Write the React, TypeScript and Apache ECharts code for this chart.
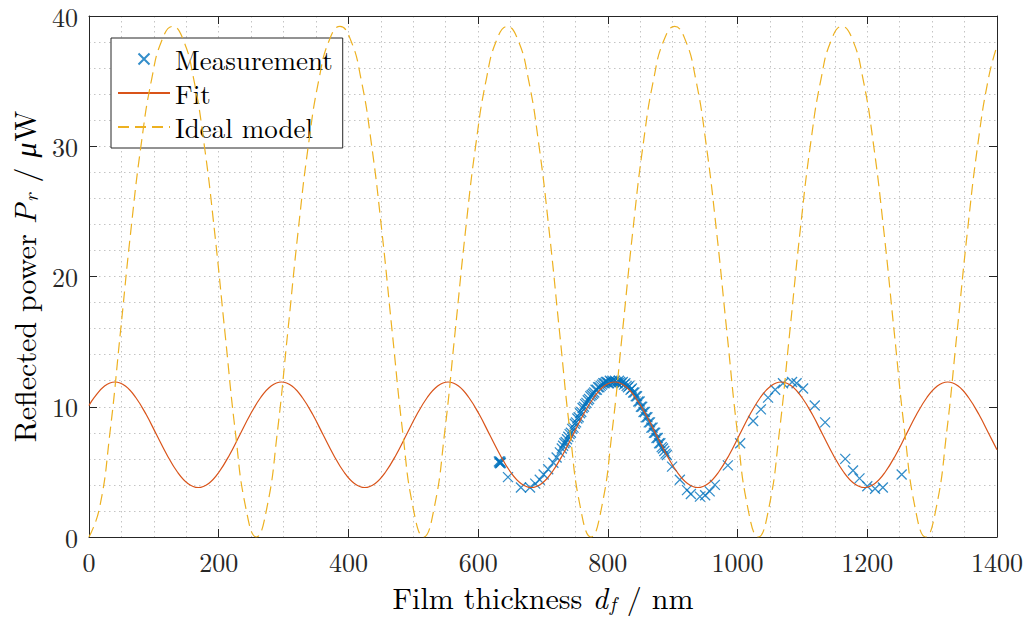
import React, { useEffect, useRef } from "react";
import * as echarts from "echarts";

// ---- Data ----
const measX = [
  632, 633, 634, 634, 635, 646, 666, 680, 688, 695, 701, 708, 716, 721, 726,
  729, 731, 733, 735, 737, 739, 741, 743, 745, 747, 749, 751, 753, 755, 757, 759,
  761, 763, 765, 767, 769, 771, 773, 775, 777, 779, 781, 783, 785, 787, 789, 791,
  793, 795, 797, 799,
  801, 803, 805, 807, 809, 811, 813, 815, 817, 819, 821, 823, 825, 827, 829, 831,
  833, 835, 837, 839, 841, 843, 845, 847, 849, 851, 853, 855, 857, 859, 861, 863,
  865, 867, 869, 871, 873, 875, 877, 879, 881, 883, 885, 887, 889, 891,
  899, 911, 922, 928, 942, 950, 957, 965, 985, 1004, 1024, 1036, 1047, 1058, 1070,
  1084, 1091, 1101, 1119, 1135, 1166, 1178, 1188, 1200, 1212, 1224, 1253,
];
const measY = [
  5.8, 5.7, 5.65, 5.8, 5.7, 4.6, 3.8, 3.8, 4.1, 4.4, 4.8, 5.2, 5.7, 6.1, 6.5,
  6.8, 7.0, 7.2, 7.3, 7.5, 7.7, 7.9, 8.0, 8.3, 8.4, 8.7, 8.8, 9.1, 9.2, 9.5, 9.6,
  9.9, 10.0, 10.2, 10.3, 10.5, 10.6, 10.8, 10.9, 11.0, 11.1, 11.3, 11.3, 11.5, 11.5, 11.6, 11.7,
  11.8, 11.8, 11.9, 11.9,
  11.8, 12.0, 11.9, 12.0, 11.9, 12.0, 11.9, 11.8, 12.0, 11.9, 11.8, 11.9, 11.7, 11.8, 11.6, 11.5,
  11.6, 11.3, 11.4, 11.1, 11.1, 10.8, 10.8, 10.4, 10.4, 10.0, 10.0, 9.6, 9.6, 9.2, 9.2, 8.8,
  8.8, 8.4, 8.4, 8.0, 8.0, 7.6, 7.6, 7.2, 7.2, 6.9, 6.8, 6.6, 6.4, 6.3,
  5.4, 4.4, 3.6, 3.3, 3.1, 3.2, 3.5, 4.0, 5.5, 7.2, 8.9, 9.8, 10.7, 11.3, 11.8,
  11.9, 11.8, 11.4, 10.1, 8.8, 6.0, 5.1, 4.5, 3.9, 3.7, 3.8, 4.8,
];

const fitX = [
  0, 7.9, 24.0, 40, 56.1, 72.1, 88.2, 104.2, 120.3, 136.3, 152.4, 168.4, 184.5, 200.5, 216.6, 232.6,
  248.7, 264.7, 280.8, 296.8, 312.9, 328.9, 345.0, 361.0, 377.1, 393.1, 409.2, 425.2, 441.3, 457.3,
  473.4, 489.4, 505.5, 521.5, 537.6, 553.6, 569.7, 585.7, 601.8, 617.8, 633.9, 649.9, 666.0, 682.0,
  698.1, 714.1, 730.2, 746.2, 762.3, 778.3, 794.4, 810.4, 826.5, 842.5, 858.6, 874.6, 890.7, 906.7,
  922.8, 938.8, 954.9, 970.9, 987.0, 1003.0, 1019.1, 1035.1, 1051.2, 1067.2, 1083.3, 1099.3, 1115.4,
  1131.4, 1147.5, 1163.5, 1179.6, 1195.6, 1211.7, 1227.7, 1243.8, 1259.8, 1275.9, 1291.9, 1308.0,
  1324.0, 1340.1, 1356.1, 1372.2, 1388.2, 1400,
];
const fitY = [
  10.1, 10.71, 11.59, 11.9, 11.59, 10.71, 9.4, 7.85, 6.3, 4.99, 4.11, 3.8, 4.11, 4.99, 6.3, 7.85,
  9.4, 10.71, 11.59, 11.9, 11.59, 10.71, 9.4, 7.85, 6.3, 4.99, 4.11, 3.8, 4.11, 4.99,
  6.3, 7.85, 9.4, 10.71, 11.59, 11.9, 11.59, 10.71, 9.4, 7.85, 6.3, 4.99, 4.11, 3.8,
  4.11, 4.99, 6.3, 7.85, 9.4, 10.71, 11.59, 11.9, 11.59, 10.71, 9.4, 7.85, 6.3, 4.99,
  4.11, 3.8, 4.11, 4.99, 6.3, 7.85, 9.4, 10.71, 11.59, 11.9, 11.59, 10.71, 9.4,
  7.85, 6.3, 4.99, 4.11, 3.8, 4.11, 4.99, 6.3, 7.85, 9.4, 10.71, 11.59,
  11.9, 11.59, 10.71, 9.4, 7.85, 6.7,
];

const idealX = [
  0, 16.1, 32.3, 48.4, 64.5, 80.6, 96.8, 112.9, 129, 145.1, 161.3, 177.4, 193.5, 209.6, 225.8, 241.9,
  258, 274.1, 290.3, 306.4, 322.5, 338.6, 354.8, 370.9, 387, 403.1, 419.3, 435.4, 451.5, 467.6, 483.8, 499.9,
  516, 532.1, 548.3, 564.4, 580.5, 596.6, 612.8, 628.9, 645, 661.1, 677.3, 693.4, 709.5, 725.6, 741.8, 757.9,
  774, 790.1, 806.3, 822.4, 838.5, 854.6, 870.8, 886.9, 903, 919.1, 935.3, 951.4, 967.5, 983.6, 999.8, 1015.9,
  1032, 1048.1, 1064.3, 1080.4, 1096.5, 1112.6, 1128.8, 1144.9, 1161, 1177.1, 1193.3, 1209.4, 1225.5, 1241.6, 1257.8, 1273.9,
  1290, 1306.1, 1322.3, 1338.4, 1354.5, 1370.6, 1386.8, 1400,
];
const idealY = [
  0, 2.2, 8.0, 15.7, 23.5, 30.2, 35.2, 38.2, 39.2, 38.2, 35.2, 30.2, 23.5, 15.7, 8.0, 2.2,
  0, 2.2, 8.0, 15.7, 23.5, 30.2, 35.2, 38.2, 39.2, 38.2, 35.2, 30.2, 23.5, 15.7, 8.0, 2.2,
  0, 2.2, 8.0, 15.7, 23.5, 30.2, 35.2, 38.2, 39.2, 38.2, 35.2, 30.2, 23.5, 15.7, 8.0, 2.2,
  0, 2.2, 8.0, 15.7, 23.5, 30.2, 35.2, 38.2, 39.2, 38.2, 35.2, 30.2, 23.5, 15.7, 8.0, 2.2,
  0, 2.2, 8.0, 15.7, 23.5, 30.2, 35.2, 38.2, 39.2, 38.2, 35.2, 30.2, 23.5, 15.7, 8.0, 2.2,
  0, 2.2, 8.0, 15.7, 23.5, 30.2, 35.2, 37.7,
];

const seriesNames = ["Measurement", "Fit", "Ideal model"];
const xTitle = "Film thickness {i|d}{sub|f} / nm";
const yTitle = "Reflected power {i|P}{sub|r} / {i|μ}W";

const FONT = "'Latin Modern Roman', 'Liberation Serif', 'Times New Roman', serif";
const AXIS_COLOR = "#262626";
const GRID_LINE = { color: "#c4c4c4", width: 1, type: [1.5, 3.5] as any };

export default function App() {
  const ref = useRef<HTMLDivElement>(null);

  useEffect(() => {
    if (!ref.current) return;
    const chart = echarts.init(ref.current, undefined, { renderer: "svg" });

    const richTitle = {
      i: { fontFamily: FONT, fontStyle: "italic", fontSize: 30, color: "#000", padding: [0, 1, 0, 0] },
      sub: { fontFamily: FONT, fontStyle: "italic", fontSize: 20, color: "#000", padding: [12, 1, 0, 1] },
    };

    const baseAxis = {
      type: "value" as const,
      axisLine: { show: true, onZero: false, lineStyle: { color: AXIS_COLOR, width: 1 } },
      axisTick: { show: true, inside: true, length: 8, lineStyle: { color: AXIS_COLOR, width: 1 } },
    };

    const hiddenDot = { opacity: 0 };

    chart.setOption({
      animation: false,
      backgroundColor: "#fff",
      grid: { left: 89, right: 34, top: 16, bottom: 82, containLabel: false },
      legend: {
        orient: "vertical",
        left: 111,
        top: 38,
        data: [
          { name: seriesNames[0], icon: "path://M0,0L10,10M10,0L0,10" },
          { name: seriesNames[1], itemStyle: hiddenDot },
          { name: seriesNames[2], itemStyle: hiddenDot },
        ],
        itemWidth: 52,
        itemHeight: 11,
        itemGap: 6,
        padding: [7, 10, 7, 6],
        backgroundColor: "#fff",
        borderColor: AXIS_COLOR,
        borderWidth: 1,
        borderRadius: 0,
        textStyle: { fontFamily: FONT, fontSize: 27, color: "#000", lineHeight: 28 },
      },
      xAxis: [
        {
          ...baseAxis,
          position: "bottom",
          min: 0,
          max: 1400,
          interval: 200,
          axisLabel: {
            fontFamily: FONT,
            fontSize: 26,
            lineHeight: 26,
            color: AXIS_COLOR,
            margin: 11,
            formatter: (v: number) => String(v),
          },
          splitLine: { show: true, lineStyle: GRID_LINE },
          minorTick: { show: false, splitNumber: 4 },
          minorSplitLine: { show: true, lineStyle: GRID_LINE },
          name: xTitle,
          nameLocation: "middle",
          nameGap: 43,
          nameTextStyle: { fontFamily: FONT, fontSize: 30, color: "#000", rich: richTitle },
        },
        {
          ...baseAxis,
          position: "top",
          min: 0,
          max: 1400,
          interval: 200,
          axisLabel: { show: false },
          splitLine: { show: false },
        },
      ],
      yAxis: [
        {
          ...baseAxis,
          position: "left",
          min: 0,
          max: 40,
          interval: 10,
          axisLabel: { fontFamily: FONT, fontSize: 26, lineHeight: 26, color: AXIS_COLOR, margin: 11 },
          splitLine: { show: true, lineStyle: GRID_LINE },
          minorTick: { show: false, splitNumber: 5 },
          minorSplitLine: { show: true, lineStyle: GRID_LINE },
          name: yTitle,
          nameLocation: "middle",
          nameGap: 50,
          nameTextStyle: { fontFamily: FONT, fontSize: 30, color: "#000", rich: richTitle },
        },
        {
          ...baseAxis,
          position: "right",
          min: 0,
          max: 40,
          interval: 10,
          axisLabel: { show: false },
          splitLine: { show: false },
        },
      ],
      series: [
        {
          name: seriesNames[0],
          type: "scatter",
          symbol: "path://M0,0L10,10M10,0L0,10",
          symbolSize: 10,
          itemStyle: { color: "#0072BD", borderColor: "#0072BD", borderWidth: 1.3 },
          data: measX.map((x, i) => [x, measY[i]]),
          z: 2,
        },
        {
          name: seriesNames[1],
          type: "line",
          smooth: 0.4,
          showSymbol: false,
          symbol: "none",
          lineStyle: { color: "#D95319", width: 1.2 },
          itemStyle: { color: "#D95319" },
          data: fitX.map((x, i) => [x, fitY[i]]),
          z: 3,
        },
        {
          name: seriesNames[2],
          type: "line",
          smooth: 0.5,
          showSymbol: false,
          symbol: "none",
          clip: true,
          lineStyle: { color: "#EDB120", width: 1.2, type: [11, 6] },
          itemStyle: { color: "#EDB120" },
          data: idealX.map((x, i) => [x, idealY[i]]),
          z: 4,
        },
      ],
    });

    return () => chart.dispose();
  }, []);

  return <div ref={ref} style={{ width: 1031, height: 619, position: "absolute", left: 0, top: 0 }} />;
}
